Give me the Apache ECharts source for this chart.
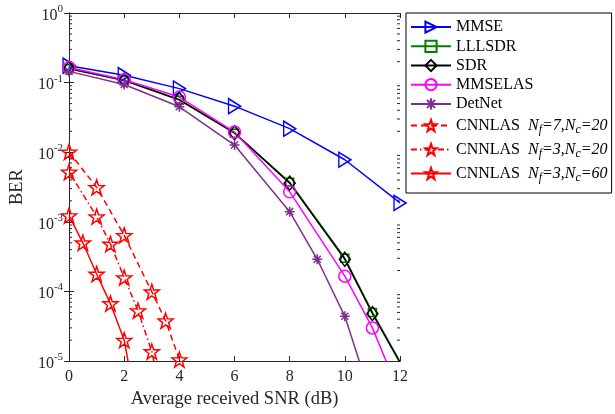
<!DOCTYPE html>
<html>
<head>
<meta charset="utf-8">
<script src="https://cdn.jsdelivr.net/npm/echarts@6/dist/echarts.min.js"></script>
<style>
  html, body { margin: 0; padding: 0; background: #fff; }
  #chart { width: 615px; height: 414px; }
</style>
</head>
<body>
<div id="chart"></div>
<script>
// BER versus average received SNR (dB) for the detectors compared
const snrMMSE = [0, 2, 4, 6, 8, 10, 12];
const berMMSE = [0.175, 0.128, 0.082, 0.0459, 0.0218, 0.0078, 0.00187];

const snrSDR = [0, 2, 4, 6, 8, 10, 11, 12];
const berLLLSDR = [0.158, 0.107, 0.056, 0.0188, 0.0037, 0.0003, 5.0e-5, 9.8e-6];
const berSDR = [0.16, 0.108, 0.057, 0.019, 0.0036, 0.00029, 4.8e-5, 9.5e-6];
const berMMSELAS = [0.165, 0.11, 0.062, 0.0195, 0.0027, 0.000166, 3.0e-5, 3.3e-6];

const snrDetNet = [0, 2, 4, 6, 8, 9, 10, 11];
const berDetNet = [0.145, 0.094, 0.045, 0.0127, 0.0014, 0.00029, 4.4e-5, 2.6e-6];

const snrCnn1 = [0, 1, 2, 3, 3.5, 4];
const berCnn1 = [0.0101, 0.00313, 0.00064, 9.9e-5, 3.8e-5, 1.05e-5];
const snrCnn2 = [0, 1, 1.5, 2, 2.5, 3, 3.5];
const berCnn2 = [0.0052, 0.00119, 0.00048, 0.000158, 5.3e-5, 1.37e-5, 1.5e-6];
const snrCnn3 = [0, 0.5, 1, 1.5, 2, 2.5];
const berCnn3 = [0.00123, 0.0005, 0.000178, 6.7e-5, 2.0e-5, 1.6e-6];

const seriesNames = ['MMSE', 'LLLSDR', 'SDR', 'MMSELAS', 'DetNet',
  'CNNLAS Nf=7,Nc=20', 'CNNLAS Nf=3,Nc=20', 'CNNLAS Nf=3,Nc=60'];
const legendLabels = [
  'MMSE', 'LLLSDR', 'SDR', 'MMSELAS', 'DetNet',
  '{n|CNNLAS  }{i|N}{sub|f}{i|=7,N}{sub|c}{i|=20}',
  '{n|CNNLAS  }{i|N}{sub|f}{i|=3,N}{sub|c}{i|=20}',
  '{n|CNNLAS  }{i|N}{sub|f}{i|=3,N}{sub|c}{i|=60}'
];

const xMin = 0, xMax = 12, xStep = 2;
const yMin = 1e-5, yMax = 1;

const FONT = "'Liberation Serif', 'Times New Roman', serif";
const AXIS_COLOR = '#262626';

const STAR = 'path://M0,-10L2.35,-3.24L9.51,-3.09L3.8,1.24L5.88,8.09L0,4L-5.88,8.09L-3.8,1.24L-9.51,-3.09L-2.35,-3.24Z';
const ASTERISK = 'path://M0,-10L0,10M-10,0L10,0M-7.07,-7.07L7.07,7.07M-7.07,7.07L7.07,-7.07';

function pairs(xs, ys) {
  return xs.map((x, i) => [x, ys[i]]);
}

function curve(name, xs, ys, color, symbol, size, extra) {
  const s = {
    name: name,
    type: 'line',
    data: pairs(xs, ys),
    symbol: symbol,
    symbolSize: size,
    showAllSymbol: true,
    clip: true,
    lineStyle: { color: color, width: 1.5, type: 'solid' },
    itemStyle: { color: 'none', borderColor: color, borderWidth: 1.5 },
    emphasis: { disabled: true },
    animation: false
  };
  return Object.assign(s, extra || {});
}

// minor ticks of the log axis (2..9 within each decade)
const minorVals = [];
for (let e = -5; e < 0; e++) {
  for (let k = 2; k <= 9; k++) minorVals.push(k * Math.pow(10, e));
}

const chart = echarts.init(document.getElementById('chart'), null, { renderer: 'canvas' });

const axisLineStyle = { show: true, lineStyle: { color: AXIS_COLOR, width: 1 } };

const option = {
  backgroundColor: '#fff',
  animation: false,
  grid: { left: 64, right: 215, top: 13, bottom: 51, containLabel: false },
  legend: {
    orient: 'vertical',
    left: 406,
    top: 13,
    padding: [6, 4, 9, 4],
    itemWidth: 40,
    itemHeight: 14,
    itemGap: 3,
    borderColor: '#000',
    borderWidth: 1,
    backgroundColor: '#fff',
    selectedMode: false,
    data: seriesNames,
    formatter: name => legendLabels[seriesNames.indexOf(name)],
    textStyle: {
      fontFamily: FONT, fontSize: 16, color: '#000', lineHeight: 14,
      rich: {
        n: { fontFamily: FONT, fontSize: 16, lineHeight: 14, color: '#000' },
        i: { fontFamily: FONT, fontSize: 16, lineHeight: 14, fontStyle: 'italic', color: '#000' },
        sub: { fontFamily: FONT, fontSize: 12, lineHeight: 12, fontStyle: 'italic', color: '#000', padding: [9, 0, 0, 0] }
      }
    }
  },
  xAxis: [
    {
      type: 'value', min: xMin, max: xMax, interval: xStep, position: 'bottom',
      axisLine: axisLineStyle,
      axisTick: { show: true, inside: true, length: 5, lineStyle: { color: AXIS_COLOR } },
      axisLabel: { show: true, margin: 8, fontFamily: FONT, fontSize: 16, color: AXIS_COLOR },
      splitLine: { show: false },
      name: 'Average received SNR (dB)',
      nameLocation: 'middle',
      nameGap: 27,
      nameTextStyle: { fontFamily: FONT, fontSize: 18.5, color: AXIS_COLOR }
    },
    {
      type: 'value', min: xMin, max: xMax, interval: xStep, position: 'top',
      axisLine: axisLineStyle,
      axisTick: { show: true, inside: true, length: 5, lineStyle: { color: AXIS_COLOR } },
      axisLabel: { show: false },
      splitLine: { show: false }
    }
  ],
  yAxis: [
    {
      type: 'log', logBase: 10, min: yMin, max: yMax, position: 'left',
      axisLine: axisLineStyle,
      axisTick: { show: true, inside: true, length: 5, lineStyle: { color: AXIS_COLOR } },
      axisLabel: {
        show: true, margin: 6, padding: [5, 0, 0, 0],
        formatter: v => '{b|10}{s|' + Math.round(Math.log10(v)) + '}',
        rich: {
          b: { fontFamily: FONT, fontSize: 16, lineHeight: 16, color: AXIS_COLOR, verticalAlign: 'bottom' },
          s: { fontFamily: FONT, fontSize: 11, lineHeight: 11, color: AXIS_COLOR, verticalAlign: 'bottom', padding: [0, 0, 9, 0] }
        }
      },
      splitLine: { show: false },
      name: 'BER',
      nameLocation: 'middle',
      nameGap: 37,
      nameTextStyle: { fontFamily: FONT, fontSize: 18.5, color: AXIS_COLOR }
    },
    {
      type: 'log', logBase: 10, min: yMin, max: yMax, position: 'right',
      axisLine: axisLineStyle,
      axisTick: { show: true, inside: true, length: 5, lineStyle: { color: AXIS_COLOR } },
      axisLabel: { show: false },
      splitLine: { show: false }
    }
  ],
  series: [
    {
      name: 'minorTicks',
      type: 'custom',
      silent: true,
      clip: false,
      data: minorVals.map(v => [xMin, v]),
      renderItem: (params, api) => {
        const v = api.value(1);
        const pl = api.coord([xMin, v]);
        const pr = api.coord([xMax, v]);
        const st = { stroke: AXIS_COLOR, lineWidth: 1 };
        return {
          type: 'group',
          children: [
            { type: 'line', shape: { x1: pl[0], y1: pl[1], x2: pl[0] + 3, y2: pl[1] }, style: st },
            { type: 'line', shape: { x1: pr[0], y1: pr[1], x2: pr[0] - 3, y2: pr[1] }, style: st }
          ]
        };
      },
      z: 1
    },
    curve('MMSE', snrMMSE, berMMSE, '#0000ff', 'triangle', [15, 12], { symbolRotate: -90 }),
    curve('LLLSDR', snrSDR, berLLLSDR, '#008000', 'rect', 8),
    curve('SDR', snrSDR, berSDR, '#000000', 'diamond', [11, 14]),
    curve('MMSELAS', snrSDR, berMMSELAS, '#ff00ff', 'circle', 12),
    curve('DetNet', snrDetNet, berDetNet, '#7e2f8e', ASTERISK, 10),
    curve('CNNLAS Nf=7,Nc=20', snrCnn1, berCnn1, '#ff0000', STAR, 15,
      { lineStyle: { color: '#ff0000', width: 1.5, type: [6, 4] } }),
    curve('CNNLAS Nf=3,Nc=20', snrCnn2, berCnn2, '#ff0000', STAR, 15,
      { lineStyle: { color: '#ff0000', width: 1.5, type: [6, 3, 1.5, 3] } }),
    curve('CNNLAS Nf=3,Nc=60', snrCnn3, berCnn3, '#ff0000', STAR, 15)
  ]
};

chart.setOption(option);
</script>
</body>
</html>
